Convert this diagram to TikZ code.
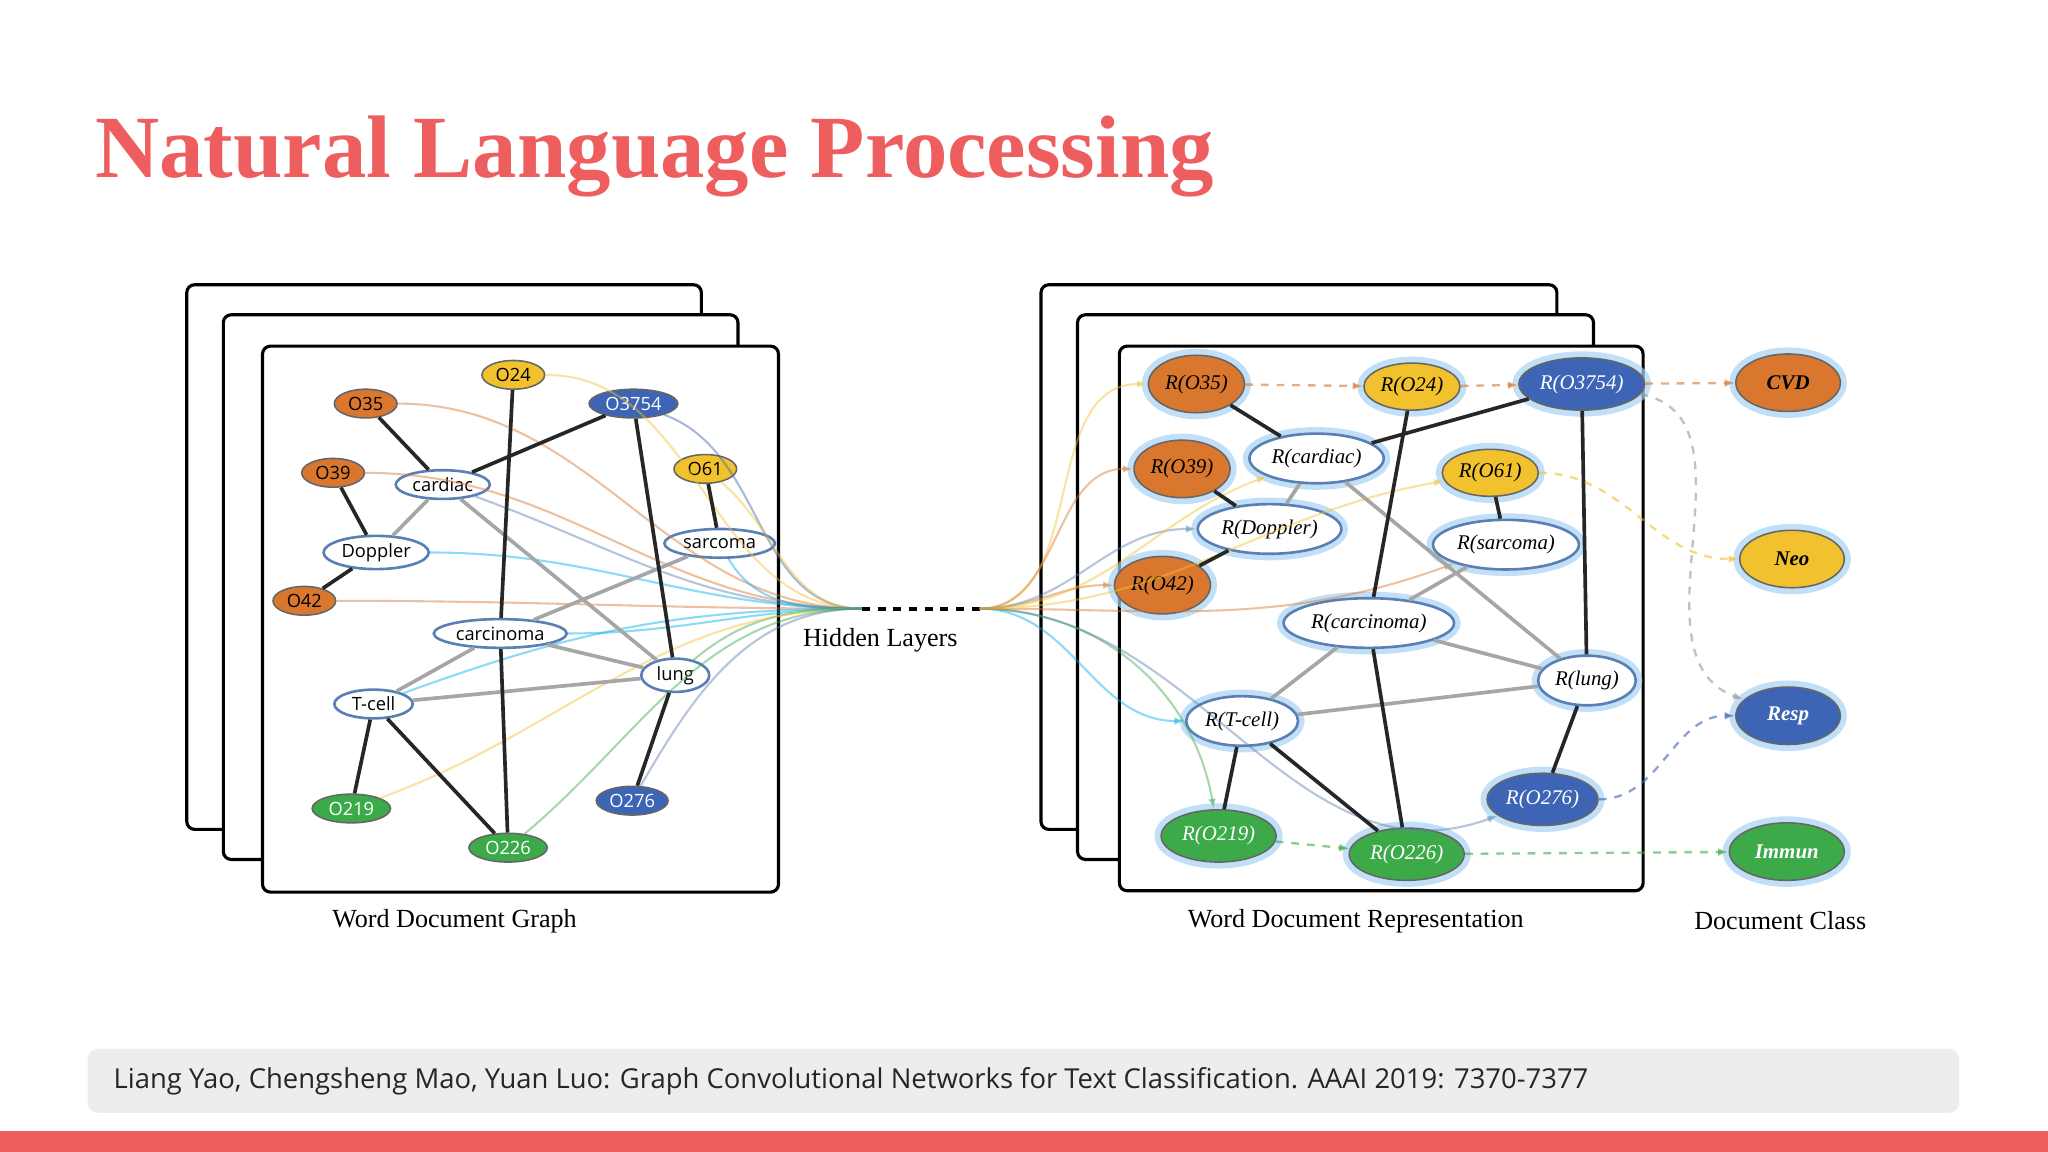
\documentclass[tikz,border=0pt]{standalone}
\usepackage{fontspec}
\setmainfont{Liberation Serif}
\newfontfamily\sans{Open Sans}
\usetikzlibrary{shapes.geometric,arrows.meta}
\definecolor{tred}{HTML}{EE5E5E}
\definecolor{nor}{HTML}{D9772E}
\definecolor{nye}{HTML}{F2C12E}
\definecolor{nbl}{HTML}{3E64B5}
\definecolor{ngr}{HTML}{3DAA4A}
\definecolor{wbd}{HTML}{5A7FB5}
\definecolor{glow}{HTML}{A8D4F5}
\begin{document}
\begin{tikzpicture}[x=0.5pt,y=-0.5pt,
 frame/.style={draw=black,line width=1.2pt,fill=white,rounded corners=3pt},
 ln/.style={ellipse,draw=black!60,line width=0.6pt,minimum height=11pt,inner sep=1pt,font=\sans\fontsize{7}{8}\selectfont},
 lo/.style={ln,fill=nor,minimum width=24pt},
 ly/.style={ln,fill=nye,minimum width=24pt},
 lb/.style={ln,fill=nbl,text=white,minimum width=34pt},
 lg/.style={ln,fill=ngr,text=white,minimum width=30pt},
 lw/.style={ln,fill=white,draw=wbd,line width=1pt,minimum width=36pt},
 rn/.style={ellipse,draw=black!60,line width=0.6pt,inner sep=1pt,font=\itshape\fontsize{8}{9}\selectfont,
   preaction={draw=glow,line width=5pt,opacity=0.7}},
 ro/.style={rn,fill=nor,minimum width=30pt,minimum height=22pt},
 ry/.style={rn,fill=nye,minimum width=34pt,minimum height=18pt},
 rb/.style={rn,fill=nbl,text=white,minimum width=40pt,minimum height=20pt},
 rg/.style={rn,fill=ngr,text=white,minimum width=44pt,minimum height=20pt},
 rw/.style={rn,fill=white,draw=wbd,line width=1pt,minimum width=50pt,minimum height=19pt},
 cls/.style={rn,minimum width=40pt,minimum height=22pt,font=\bfseries\itshape\fontsize{8}{9}\selectfont},
 dk/.style={line width=1.4pt,black!85},
 gy/.style={line width=1.4pt,black!35},
 cv/.style={line width=0.8pt,opacity=0.45},
 da/.style={dashed,line width=0.9pt,opacity=0.6,-{Latex[length=4pt]}},
 lab/.style={font=\fontsize{10}{12}\selectfont}
]
\useasboundingbox (0,0) rectangle (1568,882);
\fill[white] (0,0) rectangle (1568,882);
\node[anchor=west,text=tred,font=\bfseries\fontsize{34}{40}\selectfont] (title) at (66,120) {Natural Language Processing};
% left frames
\draw[frame] (143,218) rectangle (537,635);
\draw[frame] (171,241) rectangle (565,658);
\draw[frame] (201,265) rectangle (596,683);
\coordinate (h1) at (660,466);
\coordinate (h2) at (750,466);
% left nodes
\node[lo] (a35) at (280,309) {O35};
\node[ly] (a24) at (393,287) {O24};
\node[lb] (a3754) at (485,309) {O3754};
\node[lo] (a39) at (255,362) {O39};
\node[lw] (acard) at (339,371) {cardiac};
\node[ly] (a61) at (540,359) {O61};
\node[lw] (adop) at (288,423) {Doppler};
\node[lw,minimum width=40pt] (asar) at (551,416) {sarcoma};
\node[lo] (a42) at (233,460) {O42};
\node[lw,minimum width=48pt] (acarc) at (383,485) {carcinoma};
\node[lw,minimum width=26pt] (alung) at (517,517) {lung};
\node[lw,minimum width=30pt] (atc) at (286,539) {T-cell};
\node[lg] (a219) at (269,619) {O219};
\node[lg] (a226) at (389,649) {O226};
\node[lb,minimum width=26pt] (a276) at (484,613) {O276};
% curves
\begin{scope}[on background layer/.style={}]
\foreach \n/\c/\o in {a35/nor/0,a24/nye/0,a3754/nbl/-20,a39/nor/0,acard/wbd/-20,a61/nye/-40,adop/cyan/0,asar/cyan/-60,a42/nor/0,acarc/cyan/0,alung/ngr/40,atc/cyan/20,a219/nye/20,a226/ngr/40,a276/wbd/60}
  \draw[cv,\c] (\n) to[out=\o,in=180] (h1);
\end{scope}
\draw[gy] (acard)--(adop) (acard)--(alung) (acarc)--(atc) (acarc)--(alung) (atc)--(alung) (asar)--(acarc);
\draw[dk] (a35)--(acard) (acard)--(a3754) (a39)--(adop) (adop)--(a42) (a24)--(acarc) (acarc)--(a226) (a3754)--(alung) (a61)--(asar) (atc)--(a219) (atc)--(a226) (alung)--(a276);
\draw[dashed,line width=1.5pt] (h1)--(h2);
\node[lab] (hl) at (674,490) {Hidden Layers};
\node[lab] (wdg) at (348,705) {Word Document Graph};
% right frames
\draw[frame] (797,218) rectangle (1192,635);
\draw[frame] (825,241) rectangle (1220,658);
\draw[frame] (857,265) rectangle (1258,682);
\node[ro] (b35) at (916,294) {R(O35)};
\node[ry] (b24) at (1081,296) {R(O24)};
\node[rb] (b3754) at (1211,294) {R(O3754)};
\node[ro] (b39) at (905,359) {R(O39)};
\node[rw] (bcard) at (1008,351) {R(cardiac)};
\node[ry] (b61) at (1141,362) {R(O61)};
\node[rw] (bdop) at (972,405) {R(Doppler)};
\node[rw,minimum width=54pt] (bsar) at (1153,417) {R(sarcoma)};
\node[ro] (b42) at (890,448) {R(O42)};
\node[rw,minimum width=62pt] (bcarc) at (1048,477) {R(carcinoma)};
\node[rw,minimum width=36pt] (blung) at (1215,521) {R(lung)};
\node[rw,minimum width=40pt] (btc) at (951,552) {R(T-cell)};
\node[rg] (b219) at (933,640) {R(O219)};
\node[rg] (b226) at (1077,654) {R(O226)};
\node[rb] (b276) at (1181,612) {R(O276)};
\foreach \n/\c/\i in {b35/nye/180,b39/nor/180,b42/nor/180,bdop/wbd/180,bcard/nye/200,btc/cyan/180,b219/ngr/100,b276/wbd/200,bsar/nor/200,b61/nye/190}
  \draw[cv,\c,-{Latex[length=4pt]}] (h2) to[out=0,in=\i] (\n);
\draw[gy] (bcard)--(blung) (bcarc)--(btc) (bcarc)--(blung) (btc)--(blung) (bsar)--(bcarc) (bcard)--(bdop);
\draw[dk] (b35)--(bcard) (bcard)--(b3754) (b39)--(bdop) (bdop)--(b42) (b24)--(bcarc) (bcarc)--(b226) (b3754)--(blung) (b61)--(bsar) (btc)--(b219) (btc)--(b226) (blung)--(b276);
\node[cls,fill=nor] (cvd) at (1369,293) {CVD};
\node[cls,fill=nye] (neo) at (1372,428) {Neo};
\node[cls,fill=nbl,text=white] (resp) at (1369,548) {Resp};
\node[cls,fill=ngr,text=white,minimum width=44pt] (imm) at (1368,652) {Immun};
\draw[da,nor] (b35)--(b24);
\draw[da,nor] (b24)--(b3754);
\draw[da,nor] (b3754)--(cvd);
\draw[da,nye] (b61) to[out=0,in=180] (neo);
\draw[da,black!40] (b3754) to[out=-10,in=160] (resp);
\draw[da,nbl] (b276) to[out=0,in=180] (resp);
\draw[da,ngr] (b219)--(b226);
\draw[da,ngr] (b226)--(imm);
\node[lab] (wdr) at (1038,705) {Word Document Representation};
\node[lab] (dc) at (1363,705) {Document Class};
% caption
\fill[black!7,rounded corners=4pt] (67,803) rectangle (1500,852);
\node[anchor=west,font=\sans\fontsize{10.5}{12}\selectfont,text=black!85] (cap) at (80,828) {Liang Yao, Chengsheng Mao, Yuan Luo: Graph Convolutional Networks for Text Classification. AAAI 2019: 7370-7377};
\fill[tred] (0,866) rectangle (1568,882);
\end{tikzpicture}
\end{document}
